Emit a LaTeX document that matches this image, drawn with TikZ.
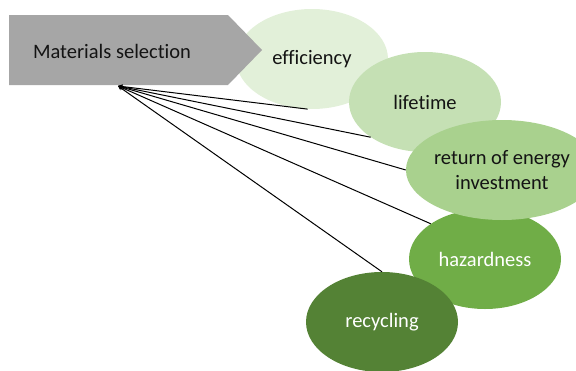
\documentclass[tikz,border=0pt]{standalone}
\usepackage{fontspec}
\setmainfont[Ligatures=NoCommon]{Carlito}
\usetikzlibrary{shapes.geometric}

\begin{document}
\begin{tikzpicture}[x=1pt, y=-1pt,
  bubble/.style={ellipse, minimum width=152pt, minimum height=100pt, inner sep=0pt, align=center, font=\fontsize{20.5}{25}\selectfont}]

\definecolor{matgray}{RGB}{166,166,166}
\definecolor{darktext}{RGB}{20,20,20}
\definecolor{greenA}{RGB}{226,240,217}
\definecolor{greenB}{RGB}{197,224,180}
\definecolor{greenC}{RGB}{169,209,142}
\definecolor{greenD}{RGB}{112,173,71}
\definecolor{greenE}{RGB}{84,130,53}

\useasboundingbox (0,0) rectangle (576,370);

\node[bubble, fill=greenA, text=darktext] (eff) at (312,59) {efficiency};

% arrow shape
\fill[matgray] (9,15) -- (228,15) -- (262,50) -- (228,85) -- (9,85) -- cycle;
\node[font=\fontsize{20.5}{25}\selectfont, text=darktext] (mat) at (112,51) {Materials selection};
\coordinate (tip) at (118,86);

\node[bubble, fill=greenB, text=darktext] (life) at (425,102) {lifetime};
\node[bubble, fill=greenD, text=white] (haz) at (485,259) {hazardness};
\node[bubble, fill=greenC, text=darktext] (roi) at (502,170) {return of energy\\investment};
\node[bubble, fill=greenE, text=white] (recy) at (382,322) {recycling};

\draw[->, >=stealth, line width=1pt] (eff.265) -- (tip);
\draw[->, >=stealth, line width=1pt] (life.213) -- (tip);
\draw[->, >=stealth, line width=1pt] (roi.west) -- (tip);
\draw[->, >=stealth, line width=1pt] (haz.147) -- (tip);
\draw[->, >=stealth, line width=1pt] (recy.north) -- (tip);

\end{tikzpicture}
\end{document}
